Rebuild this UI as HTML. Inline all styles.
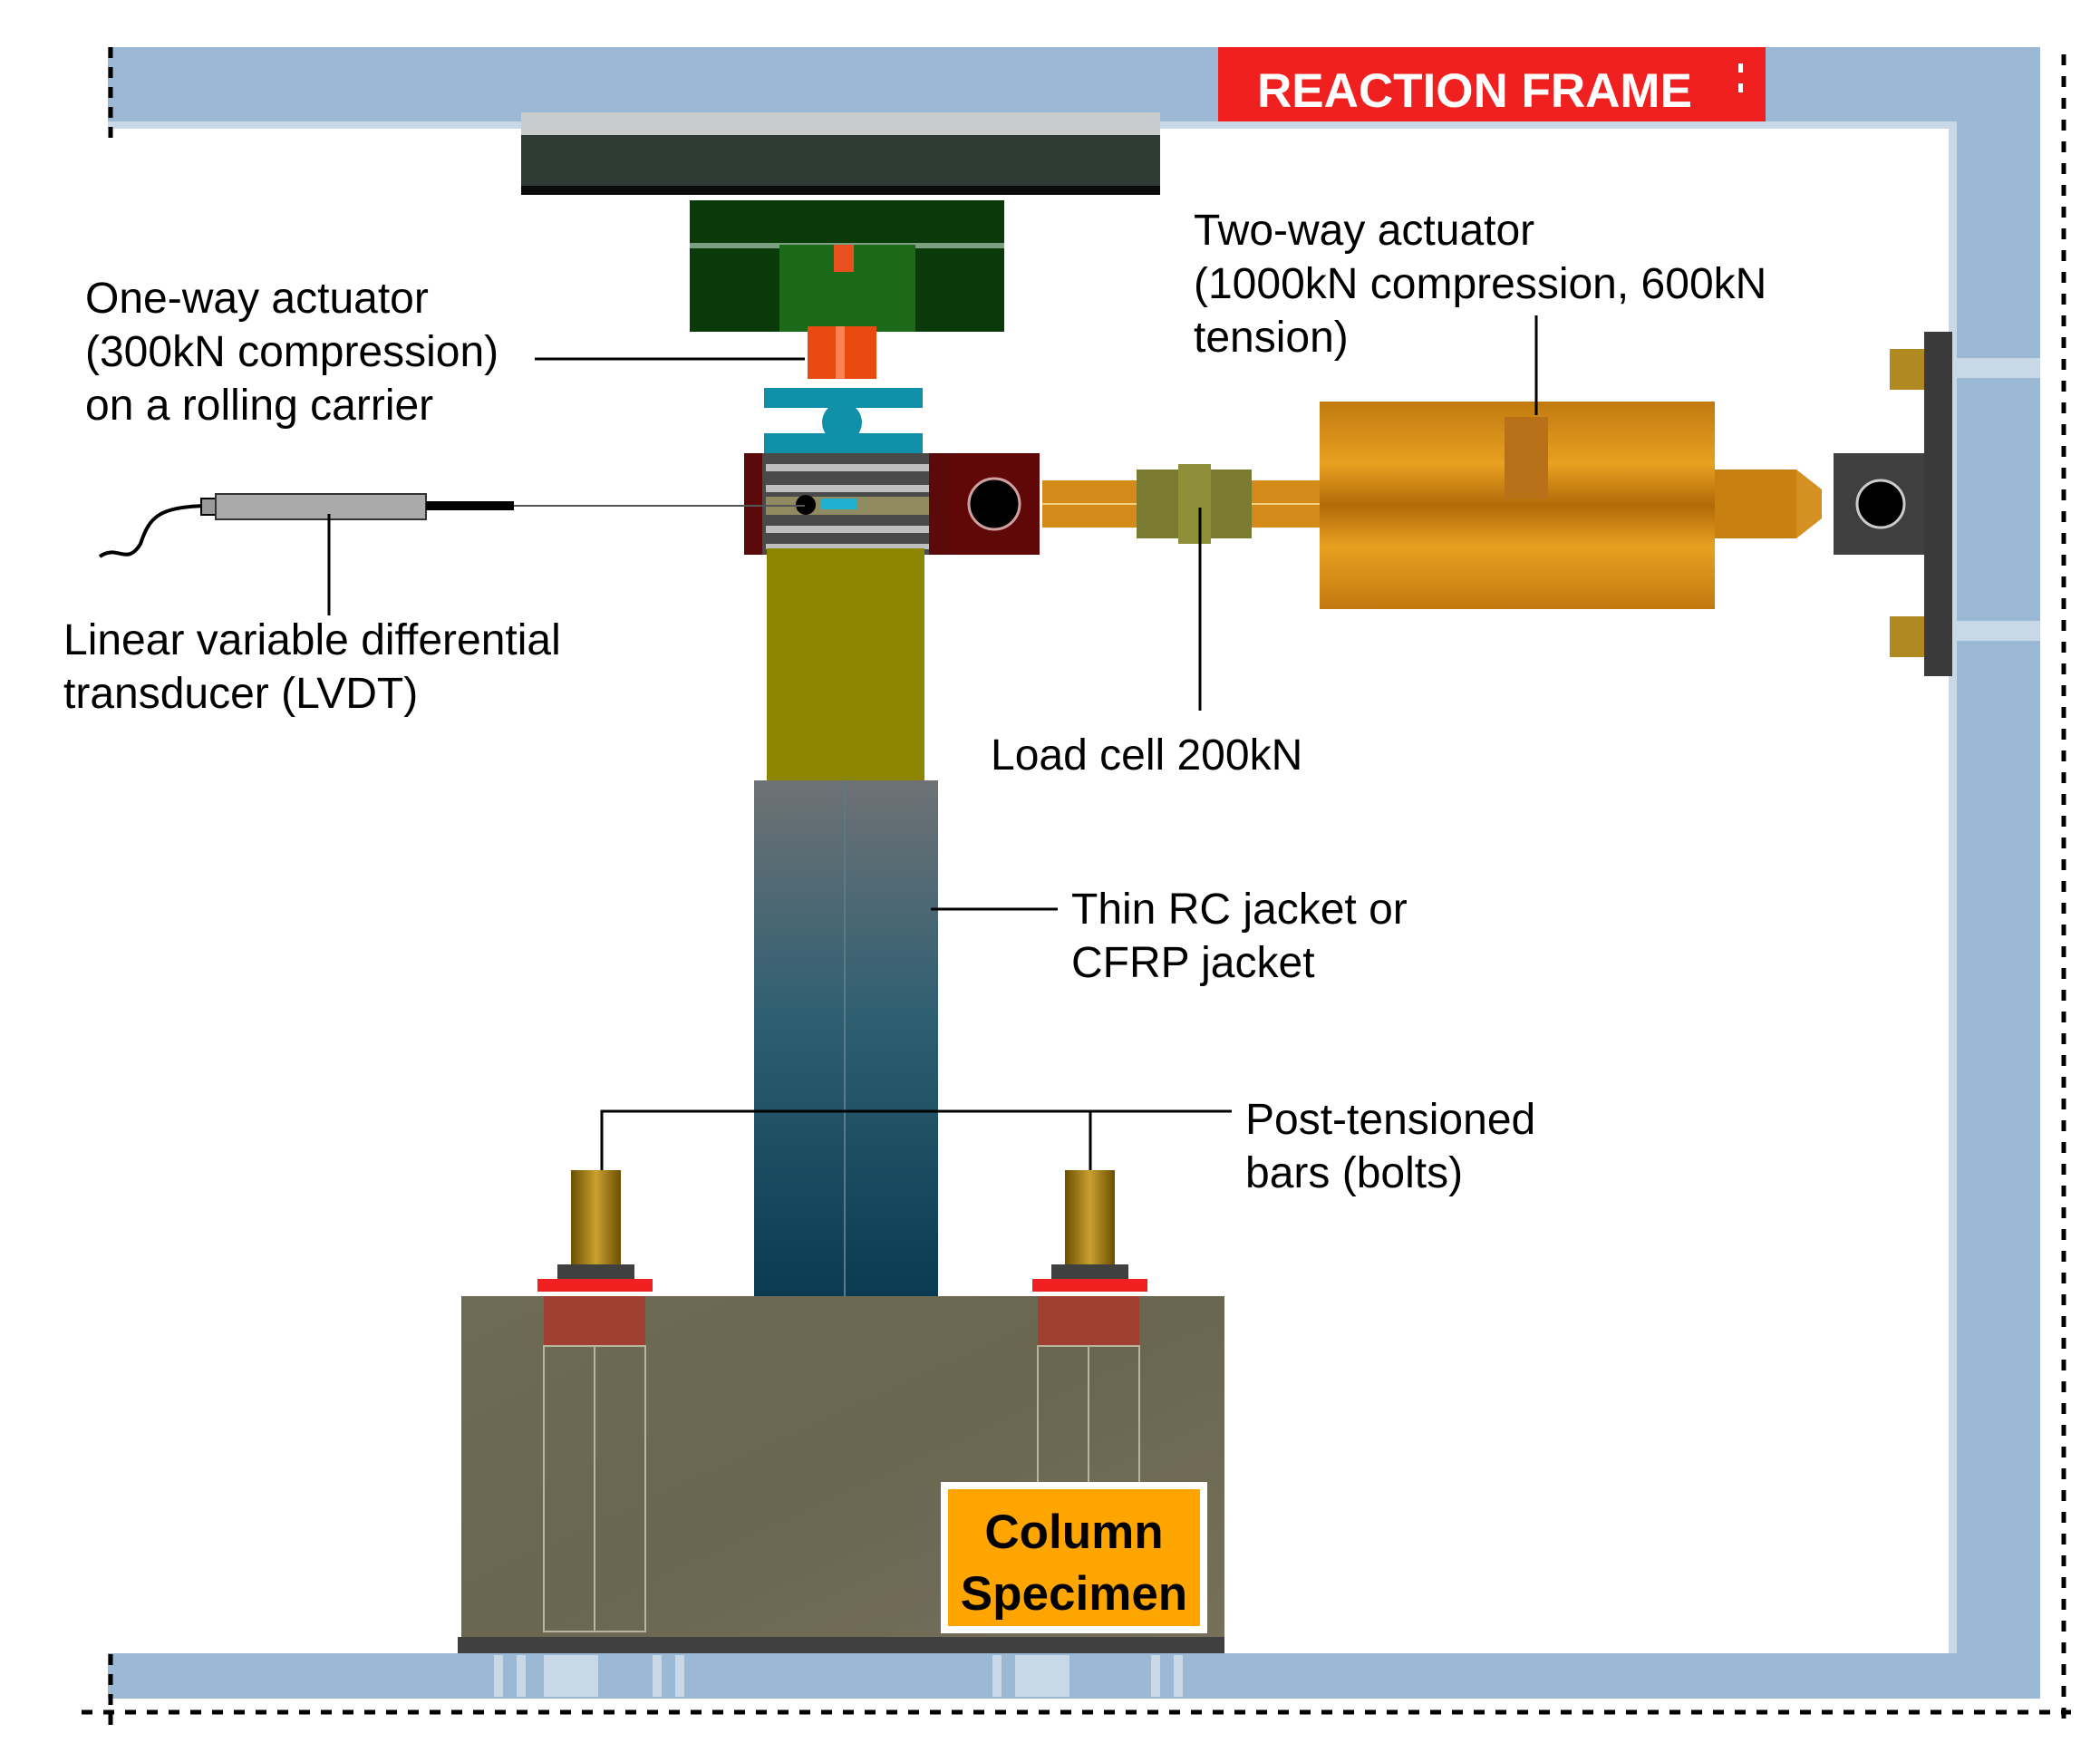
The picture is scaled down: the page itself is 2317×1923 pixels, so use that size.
<!DOCTYPE html>
<html><head><meta charset="utf-8"><style>
html,body{margin:0;padding:0;background:#fff;}
svg{display:block}
text{font-family:"Liberation Sans",Arial,sans-serif;}
</style></head><body>
<svg width="2317" height="1923" viewBox="0 0 2317 1923" xmlns="http://www.w3.org/2000/svg">
<defs>
<linearGradient id="jk" x1="0" y1="0" x2="0" y2="1"><stop offset="0" stop-color="#6e7275"/><stop offset="0.45" stop-color="#2f5f72"/><stop offset="1" stop-color="#0a3a50"/></linearGradient>
<linearGradient id="cyl" x1="0" y1="0" x2="0" y2="1"><stop offset="0" stop-color="#c07a10"/><stop offset="0.3" stop-color="#e8a020"/><stop offset="0.5" stop-color="#b06a08"/><stop offset="0.7" stop-color="#e8a020"/><stop offset="1" stop-color="#c27a10"/></linearGradient>
<linearGradient id="base" x1="0" y1="0" x2="1" y2="1"><stop offset="0" stop-color="#6f6a55"/><stop offset="0.5" stop-color="#6a6650"/><stop offset="1" stop-color="#76705a"/></linearGradient>
<linearGradient id="bolt" x1="0" y1="0" x2="1" y2="0"><stop offset="0" stop-color="#6b5000"/><stop offset="0.5" stop-color="#c9a030"/><stop offset="1" stop-color="#6b5000"/></linearGradient>
</defs>
<rect x="119" y="52" width="2132" height="85" fill="#9bb8d4"/>
<rect x="119" y="134" width="2040" height="8" fill="#c8d8e6"/>
<rect x="2150" y="52" width="101" height="1822" fill="#9bb8d4"/>
<rect x="2150" y="134" width="9" height="1690" fill="#c8d8e6"/>
<rect x="119" y="1824" width="2132" height="50" fill="#9bb8d4"/>
<g fill="#c8d8e6"><rect x="545" y="1826" width="10" height="46"/><rect x="570" y="1826" width="10" height="46"/><rect x="600" y="1826" width="60" height="46"/><rect x="720" y="1826" width="10" height="46"/><rect x="745" y="1826" width="10" height="46"/><rect x="1095" y="1826" width="10" height="46"/><rect x="1120" y="1826" width="60" height="46"/><rect x="1270" y="1826" width="10" height="46"/><rect x="1295" y="1826" width="10" height="46"/></g>
<line x1="122" y1="52" x2="122" y2="160" stroke="#000" stroke-width="5" stroke-dasharray="12,10"/>
<line x1="122" y1="1825" x2="122" y2="1905" stroke="#000" stroke-width="5" stroke-dasharray="12,10"/>
<line x1="2277" y1="60" x2="2277" y2="1905" stroke="#000" stroke-width="5" stroke-dasharray="12,12"/>
<line x1="90" y1="1889" x2="2285" y2="1889" stroke="#000" stroke-width="5" stroke-dasharray="12,12"/>
<rect x="1344" y="52" width="604" height="82" fill="#f02020"/>
<text x="1387" y="118" font-size="53" font-weight="bold" fill="#fff">REACTION FRAME</text>
<rect x="1918" y="70" width="5" height="10" fill="#fff"/><rect x="1918" y="92" width="5" height="10" fill="#fff"/>
<rect x="575" y="124" width="705" height="25" fill="#c9cccc"/>
<rect x="575" y="149" width="705" height="62" fill="#2e3a34"/>
<rect x="575" y="205" width="705" height="10" fill="#0a0a0a"/>
<rect x="761" y="221" width="347" height="145" fill="#0a3a0a"/>
<rect x="761" y="268" width="347" height="6" fill="#7aa080"/>
<rect x="860" y="270" width="150" height="96" fill="#1a6a1a"/>
<rect x="920" y="270" width="22" height="30" fill="#e85020"/>
<rect x="891" y="360" width="76" height="58" fill="#e84a10"/>
<rect x="922" y="360" width="10" height="58" fill="#ff8050"/>
<rect x="843" y="428" width="175" height="22" fill="#1090a8"/>
<rect x="843" y="478" width="175" height="22" fill="#1090a8"/>
<circle cx="929" cy="466" r="22" fill="#1090a8"/>
<rect x="821" y="500" width="209" height="112" fill="#4a4a4a"/>
<g fill="#bfbfbf"><rect x="845" y="512" width="180" height="8"/><rect x="845" y="535" width="180" height="8"/><rect x="845" y="580" width="180" height="8"/><rect x="845" y="600" width="180" height="6"/></g>
<rect x="845" y="548" width="180" height="20" fill="#8f8a60"/>
<rect x="905" y="550" width="40" height="12" fill="#20b0d0"/>
<circle cx="889" cy="557" r="11" fill="#000"/>
<rect x="821" y="500" width="20" height="112" fill="#5a0a0a"/>
<rect x="1025" y="500" width="20" height="112" fill="#5a0a0a"/>
<rect x="1045" y="500" width="102" height="112" fill="#600808"/>
<circle cx="1097" cy="556" r="28" fill="#000" stroke="#d0a0a0" stroke-width="3"/>
<rect x="846" y="605" width="174" height="256" fill="#8c8500"/>
<rect x="832" y="861" width="203" height="572" fill="url(#jk)"/>
<line x1="932" y1="861" x2="932" y2="1433" stroke="#5a7a88" stroke-width="2"/>
<rect x="1150" y="530" width="306" height="52" fill="#d48a18"/>
<line x1="1150" y1="556" x2="1456" y2="556" stroke="#f0d080" stroke-width="2"/>
<rect x="1254" y="518" width="127" height="76" fill="#7a7a30"/>
<rect x="1300" y="512" width="36" height="88" fill="#8f8f3a"/>
<rect x="1456" y="443" width="436" height="229" fill="url(#cyl)"/>
<rect x="1660" y="460" width="48" height="90" fill="#b87018"/>
<rect x="1892" y="518" width="90" height="76" fill="#c88010"/>
<polygon points="1982,518 2010,540 2010,572 1982,594" fill="#d49020"/>
<rect x="2023" y="500" width="105" height="112" fill="#3f3f3f"/>
<circle cx="2075" cy="556" r="26" fill="#000" stroke="#ccc" stroke-width="3"/>
<rect x="2123" y="366" width="31" height="380" fill="#3a3a3a"/>
<rect x="2154" y="395" width="97" height="22" fill="#c8d8e6"/><rect x="2154" y="685" width="97" height="22" fill="#c8d8e6"/>
<rect x="2085" y="385" width="38" height="45" fill="#b08a20"/><rect x="2085" y="680" width="38" height="45" fill="#b08a20"/>
<rect x="509" y="1430" width="842" height="384" fill="url(#base)"/>
<rect x="505" y="1806" width="846" height="18" fill="#404040"/>
<rect x="600" y="1430" width="112" height="55" fill="#a04030"/>
<rect x="1145" y="1430" width="112" height="55" fill="#a04030"/>
<g fill="none" stroke="#b8b4a0" stroke-width="2"><rect x="600" y="1485" width="112" height="315"/><rect x="1145" y="1485" width="112" height="315"/><line x1="656" y1="1485" x2="656" y2="1800"/><line x1="1201" y1="1485" x2="1201" y2="1800"/></g>
<rect x="593" y="1411" width="127" height="14" fill="#f02020"/><rect x="1139" y="1411" width="127" height="14" fill="#f02020"/>
<rect x="615" y="1395" width="85" height="16" fill="#404040"/><rect x="1160" y="1395" width="85" height="16" fill="#404040"/>
<rect x="630" y="1291" width="55" height="104" fill="url(#bolt)"/><rect x="1175" y="1291" width="55" height="104" fill="url(#bolt)"/>
<rect x="1038" y="1635" width="294" height="167" fill="#fff"/>
<rect x="1046" y="1643" width="278" height="151" fill="#ffa500"/>
<text x="1185" y="1708" font-size="53" font-weight="bold" text-anchor="middle">Column</text>
<text x="1185" y="1776" font-size="53" font-weight="bold" text-anchor="middle">Specimen</text>
<path d="M110 614 C130 600 140 625 155 600 C165 570 175 560 225 558" fill="none" stroke="#000" stroke-width="4"/>
<rect x="222" y="550" width="16" height="18" fill="#999" stroke="#000" stroke-width="2"/>
<rect x="238" y="545" width="232" height="28" fill="#aaa" stroke="#333" stroke-width="2"/>
<rect x="470" y="553" width="97" height="10" fill="#000"/>
<line x1="567" y1="558" x2="888" y2="558" stroke="#555" stroke-width="2"/>
<g stroke="#000" stroke-width="3" fill="none">
<line x1="590" y1="396" x2="888" y2="396"/>
<line x1="1695" y1="348" x2="1695" y2="458"/>
<line x1="363" y1="567" x2="363" y2="679"/>
<line x1="1324" y1="560" x2="1324" y2="784"/>
<line x1="1027" y1="1003" x2="1167" y2="1003"/>
<polyline points="664,1291 664,1226 1359,1226"/>
<line x1="1203" y1="1226" x2="1203" y2="1291"/>
</g>
<g font-size="48" fill="#000">
<text x="94" y="345">One-way actuator</text>
<text x="94" y="404">(300kN compression)</text>
<text x="94" y="463">on a rolling carrier</text>
<text x="1317" y="270">Two-way actuator</text>
<text x="1317" y="329">(1000kN compression, 600kN</text>
<text x="1317" y="388">tension)</text>
<text x="70" y="722">Linear variable differential</text>
<text x="70" y="781">transducer (LVDT)</text>
<text x="1093" y="849">Load cell 200kN</text>
<text x="1182" y="1019">Thin RC jacket or</text>
<text x="1182" y="1078">CFRP jacket</text>
<text x="1374" y="1251">Post-tensioned</text>
<text x="1374" y="1310">bars (bolts)</text>
</g>
</svg>
</body></html>
